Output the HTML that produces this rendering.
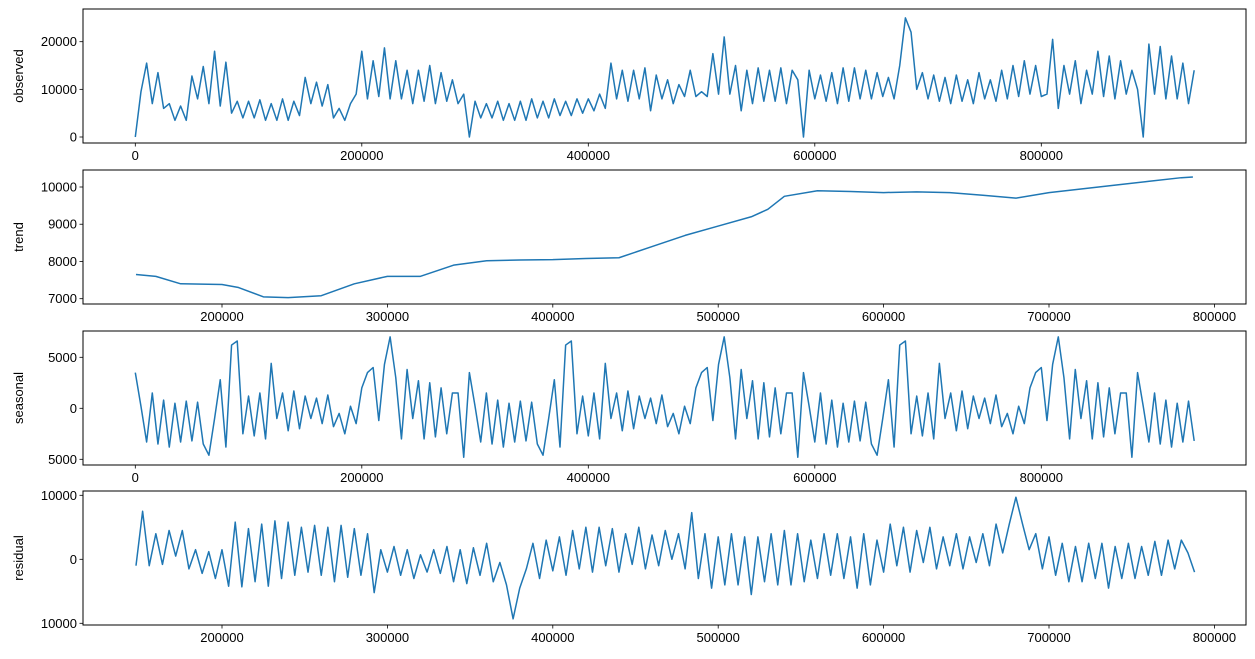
<!DOCTYPE html>
<html><head><meta charset="utf-8">
<style>
html,body{margin:0;padding:0;background:#fff;}
svg{display:block;font-family:"Liberation Sans","Noto Sans CJK KR",sans-serif;}
</style></head>
<body>
<svg id="chart" width="1255" height="659" viewBox="0 0 1255 659" xmlns="http://www.w3.org/2000/svg"></svg>
<script>
// ---- data (values in thousands where noted) ----
const observedStep = 5000;
const observedK = [0,9.5,15.5,7,13.5,6,7,3.5,6.5,3.5,12.8,8,14.8,7,18,6.5,15.7,5,7.5,4,7.5,4,7.8,3.5,7,3.5,8,3.5,7.5,4.5,12.5,7,11.5,6.5,11,4,6,3.5,7,9,18,8,16,8.5,18.7,8,16,8,14,7,14,7.5,15,7,13.5,7.5,12,7,9,0,7.5,4,7,4,7.5,3.5,7,3.5,7.5,3.5,8,4,7.5,4,8,4.5,7.5,4.5,8,5,8,5.5,9,6,15.5,8,14,7.5,14,8,14.5,5.5,13,8,12,7,11,8.5,14,8.5,9.5,8.5,17.5,9,21,9,15,5.5,14,7,14.5,7.5,14,7.5,14.5,7,14,12,0,14,8,13,7.5,13.5,7,14.5,7.5,14.5,8,14,8,13.5,8.5,12.5,8,15,25,22,10,13.5,8,13,7.5,12.5,7,13,7.5,12,7,13.5,8,12,7.5,14,8,15,8.5,16,9,15,8.5,9,20.5,6,15,9,16,7,14,9,18,8.5,17,8,16,9,14,10,0,19.5,9,19,8,17,8,15.5,7,14];
const trendX = [148000,160000,175000,200000,210000,225000,240000,260000,280000,300000,320000,340000,360000,380000,400000,420000,440000,460000,480000,500000,520000,530000,540000,560000,580000,600000,620000,640000,660000,680000,700000,720000,740000,760000,780000,787000];
const trendY = [7650,7600,7400,7380,7300,7050,7030,7080,7400,7600,7600,7900,8020,8040,8050,8080,8100,8400,8700,8950,9200,9400,9750,9900,9880,9850,9870,9850,9780,9700,9850,9950,10050,10150,10250,10270];
const seasonalCycle = [3500,200,-3300,1500,-3500,800,-3800,500,-3300,700,-3200,600,-3500,-4600,-1000,2800,-3800,6200,6600,-2500,1200,-2700,1500,-3000,4400,-1000,1500,-2200,1700,-2000,1200,-1000,1000,-1500,1300,-1800,-500,-2500,200,-1500,2000,3500,4000,-1200,4300,7000,3000,-3000,3800,-1000,2700,-3000,2500,-2800,2000,-2500,1500,1500,-4800];
const seasonalCount = 188;
const residStart = 148000, residStep = 4000;
const residual = [-1000,7500,-1000,4000,-800,4500,500,4500,-1500,1500,-2200,1200,-3000,1500,-4200,5800,-4300,4800,-3500,5500,-4200,6000,-3000,5800,-2500,5000,-2000,5300,-2500,5000,-3500,5300,-2800,4800,-2500,4000,-5200,1500,-2000,2000,-2500,1500,-3000,700,-2000,1500,-2200,2000,-3500,1500,-3800,1800,-2500,2500,-3500,-500,-4000,-9300,-4500,-1500,2500,-3000,3000,-1800,3500,-2500,4500,-1500,5000,-2000,5000,-1000,4800,-2000,4000,-800,5000,-1500,3800,-1000,4500,0,4000,-1500,7300,-3000,4000,-4500,3500,-4000,4000,-4000,3500,-5500,3500,-3500,4000,-4000,4500,-4000,4000,-3500,3000,-3000,4000,-2500,4000,-3000,3500,-4500,4000,-4000,3000,-2000,5500,-1000,5000,-2000,4500,-500,5000,-1500,3500,-1000,4000,-1500,3500,-500,4000,-1000,5500,1000,5500,9700,5500,1500,4000,-1500,3500,-2500,2500,-3500,2000,-3500,2500,-3000,2500,-4500,2000,-3000,2500,-3000,2000,-2500,2800,-2500,3000,-1500,3000,1000,-2000];
const xTicksA = [0,200000,400000,600000,800000];
const xTicksB = [200000,300000,400000,500000,600000,700000,800000];
const yTicksObs = [0,10000,20000];
const yTicksTrend = [7000,8000,9000,10000];
const yTicksSeas = [-5000,0,5000];
const yTicksResid = [-10000,0,10000];

// ---- axis functions ----
const L = 83, R = 1246;
const xA = v => 135.3 + v * 0.0011325;
const xB = v => 222 + (v - 200000) * 0.001654;
const yObs = v => 137 - v * 0.004765;
const yTrend = v => 187 + (10000 - v) * 0.03723;
const ySeas = v => 408.3 - v * 0.0102;
const yRes = v => 559.3 - v * 0.0064;

const NS = "http://www.w3.org/2000/svg";
const svg = document.getElementById("chart");
function mk(tag, attrs, parent) {
  const e = document.createElementNS(NS, tag);
  for (const k in attrs) e.setAttribute(k, attrs[k]);
  (parent || svg).appendChild(e);
  return e;
}
function lbl(v) { return String(Math.abs(v)); }

function panel(name, top, bot, xf, xticks, yf, yticks, ylabel, pts) {
  const g = mk("g", {});
  
  
  const d = pts.map((p, i) => (i ? "L" : "M") + xf(p[0]).toFixed(2) + "," + yf(p[1]).toFixed(2)).join("");
  const line = mk("path", {d: d, fill: "none", stroke: "#1f77b4", "stroke-width": 1.5, "stroke-linejoin": "round"}, g);
  
  
  const frame = mk("rect", {x: L, y: top, width: R - L, height: bot - top, fill: "none", stroke: "#000", "stroke-width": 1}, g);
  
  
  xticks.forEach(t => {
    const x = xf(t);
    mk("line", {x1: x, x2: x, y1: bot, y2: bot + 3.5, stroke: "#000", "stroke-width": 0.8}, g);
    const tx = mk("text", {x: x, y: bot + 17, "text-anchor": "middle", "font-size": 13, fill: "#000"}, g);
    tx.textContent = lbl(t);
    
    
  });
  yticks.forEach(t => {
    const y = yf(t);
    mk("line", {x1: L - 3.5, x2: L, y1: y, y2: y, stroke: "#000", "stroke-width": 0.8}, g);
    const ty = mk("text", {x: L - 6, y: y + 4.5, "text-anchor": "end", "font-size": 13, fill: "#000"}, g);
    ty.textContent = lbl(t);
    
    
  });
  const cy = (top + bot) / 2;
  const yl = mk("text", {x: 23, y: cy, "text-anchor": "middle", "font-size": 13, fill: "#000", transform: "rotate(-90 23 " + cy + ")"}, g);
  yl.textContent = ylabel;
  
  
}

const obsPts = observedK.map((v, i) => [i * observedStep, v * 1000]);
const trendPts = trendX.map((x, i) => [x, trendY[i]]);
const seasPts = [];
for (let i = 0; i < seasonalCount; i++) seasPts.push([i * observedStep, seasonalCycle[i % seasonalCycle.length]]);
const resPts = residual.map((v, i) => [residStart + i * residStep, v]);

panel("observed", 9, 143, xA, xTicksA, yObs, yTicksObs, "observed", obsPts);
panel("trend", 170, 304, xB, xTicksB, yTrend, yTicksTrend, "trend", trendPts);
panel("seasonal", 331, 465, xA, xTicksA, ySeas, yTicksSeas, "seasonal", seasPts);
panel("residual", 491, 625, xB, xTicksB, yRes, yTicksResid, "residual", resPts);
</script>
</body></html>
